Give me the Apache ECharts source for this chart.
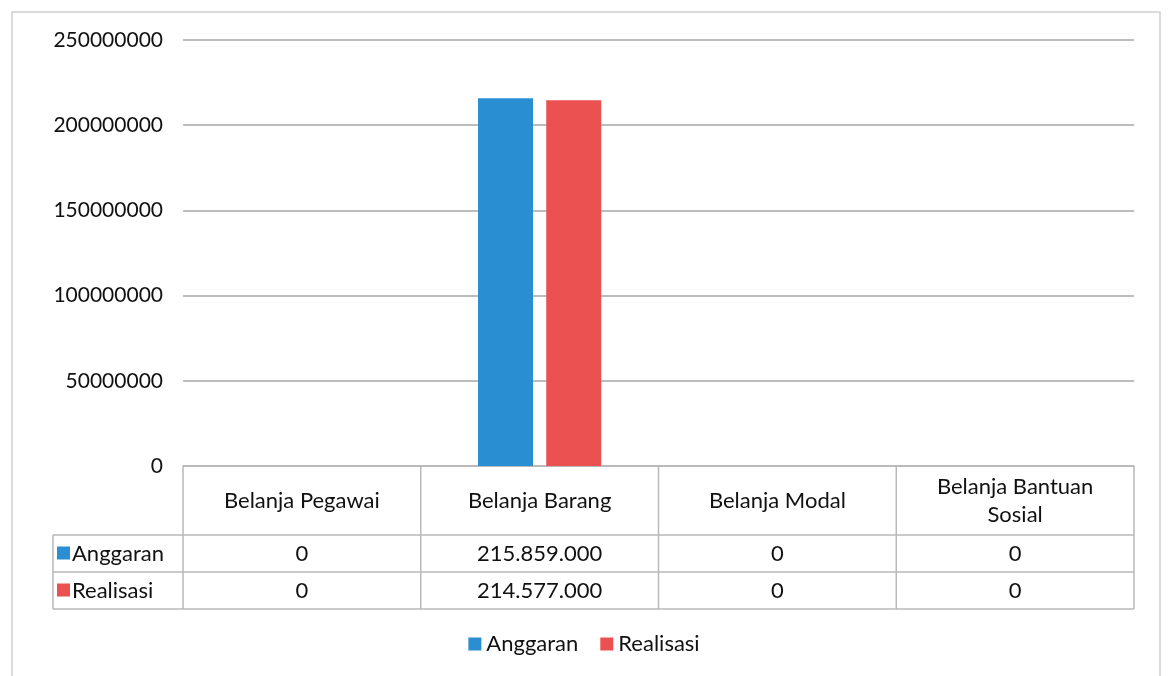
<!DOCTYPE html>
<html>
<head>
<meta charset="utf-8">
<script src="https://cdn.jsdelivr.net/npm/echarts@6/dist/echarts.min.js"></script>
<style>
html,body{margin:0;padding:0;background:#fff;}
#c{width:1168px;height:676px;}
</style>
</head>
<body>
<div id="c"></div>
<script>
const categories = ['Belanja Pegawai', 'Belanja Barang', 'Belanja Modal', 'Belanja Bantuan\nSosial'];
const seriesNames = ['Anggaran', 'Realisasi'];
const anggaran = [0, 215859000, 0, 0];
const realisasi = [0, 214577000, 0, 0];
const yTicks = [0, 50000000, 100000000, 150000000, 200000000, 250000000];

const colors = ['#2A8FD2', '#EA5150'];
const FONT = 'Lato';
const TXT = '#111111';
const LINE = '#b9b9b9';

// layout
const W = 1168, H = 676;
const gL = 183, gR = 1134, gT = 40, gB = 466;
const rowHeaderBottom = 535, row1Bottom = 572, row2Bottom = 609;
const labelColLeft = 53;

function fmt(v) {
  if (v === 0) return '0';
  return String(v).replace(/\B(?=(\d{3})+(?!\d))/g, '.');
}

const chart = echarts.init(document.getElementById('c'), null, {renderer: 'canvas'});

const colW = (gR - gL) / categories.length;
const graphics = [];
// outer frame
graphics.push({type: 'rect', shape: {x: 12, y: 12, width: 1148, height: 720}, style: {fill: 'none', stroke: '#cfcfcf', lineWidth: 1.5}, z: 0});
// table horizontal lines
[rowHeaderBottom, row1Bottom, row2Bottom].forEach(y => {
  graphics.push({type: 'line', shape: {x1: labelColLeft, y1: y, x2: gR, y2: y}, style: {stroke: LINE, lineWidth: 1.5}});
});
// table verticals
for (let k = 0; k <= categories.length; k++) {
  const x = gL + k * colW;
  graphics.push({type: 'line', shape: {x1: x, y1: gB, x2: x, y2: row2Bottom}, style: {stroke: LINE, lineWidth: 1.5}});
}
graphics.push({type: 'line', shape: {x1: labelColLeft, y1: rowHeaderBottom, x2: labelColLeft, y2: row2Bottom}, style: {stroke: LINE, lineWidth: 1.5}});
// row labels
const rowCenters = [(rowHeaderBottom + row1Bottom) / 2, (row1Bottom + row2Bottom) / 2];
seriesNames.forEach((n, i) => {
  graphics.push({type: 'rect', shape: {x: 57, y: rowCenters[i] - 7, width: 13, height: 13}, style: {fill: colors[i]}});
  graphics.push({type: 'text', x: 72, y: rowCenters[i], style: {text: n, font: '22px ' + FONT, fill: TXT, verticalAlign: 'middle', align: 'left'}});
});

const rowValues = [anggaran, realisasi];

const option = {
  backgroundColor: '#ffffff',
  animation: false,
  color: colors,
  grid: {left: gL, right: W - gR, top: gT, bottom: H - gB, containLabel: false},
  legend: {
    data: seriesNames,
    top: 633,
    left: 'center',
    icon: 'rect',
    itemWidth: 13,
    itemHeight: 13,
    itemGap: 22,
    textStyle: {fontFamily: FONT, fontSize: 22, color: TXT},
    padding: [0, 0, 0, 12]
  },
  xAxis: [
    {
      type: 'category',
      data: categories,
      position: 'bottom',
      axisLine: {show: true, lineStyle: {color: LINE, width: 1.5}},
      axisTick: {show: false},
      axisLabel: {interval: 0, margin: (rowHeaderBottom - gB) / 2, verticalAlign: 'middle', fontFamily: FONT, fontSize: 22, color: TXT, lineHeight: 28}
    }
  ].concat(rowValues.map((vals, r) => ({
    type: 'category',
    data: categories,
    position: 'bottom',
    offset: rowCenters[r] - gB,
    axisLine: {show: false},
    axisTick: {show: false},
    splitLine: {show: false},
    axisLabel: {interval: 0, margin: 0, verticalAlign: 'middle', fontFamily: FONT, fontSize: 22, color: TXT,
      formatter: (v, i) => fmt(vals[i])}
  }))),
  yAxis: {
    type: 'value',
    min: yTicks[0],
    max: yTicks[yTicks.length - 1],
    interval: yTicks[1] - yTicks[0],
    axisLine: {show: false},
    axisTick: {show: false},
    axisLabel: {margin: 20, fontFamily: FONT, fontSize: 21, color: TXT, verticalAlign: 'middle',
      formatter: v => String(v)},
    splitLine: {lineStyle: {color: '#a6a6a6', width: 1.5}}
  },
  series: [
    {name: seriesNames[0], type: 'bar', data: anggaran, barWidth: 55, barGap: '24%', xAxisIndex: 0},
    {name: seriesNames[1], type: 'bar', data: realisasi, barWidth: 55, barGap: '24%', xAxisIndex: 0}
  ],
  graphic: graphics
};
chart.setOption(option);
</script>
</body>
</html>
